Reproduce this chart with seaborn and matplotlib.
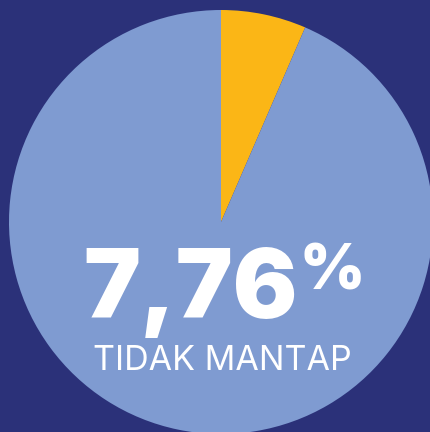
import matplotlib
matplotlib.use("Agg")
import matplotlib.pyplot as plt
import seaborn as sns

# wedge shares as drawn in the picture (yellow slice, rest)
labels = ['Tidak Mantap', 'Lainnya']
shares = [6.5, 93.5]
colors = ['#FBB616', '#7F9BD1']
big_value = '7,76'
big_unit = '%'
caption = 'TIDAK MANTAP'

bg = '#2B3179'

sns.set_style('white', {'axes.facecolor': bg, 'figure.facecolor': bg})
plt.rcParams['font.family'] = ['Inter', 'DejaVu Sans']

fig = plt.figure(figsize=(4.31, 4.32), dpi=100)
ax = fig.add_axes([0, 0, 1, 1])
ax.pie(shares, colors=colors, startangle=90, counterclock=False,
       center=(221, 210), radius=212, frame=True,
       wedgeprops={'linewidth': 0})
ax.set_xlim(0, 431)
ax.set_ylim(0, 432)
ax.set_aspect('equal')
ax.axis('off')

ax.text(298, 114, big_value, color='white', fontsize=69, fontweight='black',
        ha='right', va='baseline')
ax.text(300, 142, big_unit, color='white', fontsize=45, fontweight='black',
        ha='left', va='baseline')
ax.text(222, 62, caption, color='white', fontsize=24.5,
        ha='center', va='baseline')

fig.savefig('out.png', dpi=100, facecolor=bg)
